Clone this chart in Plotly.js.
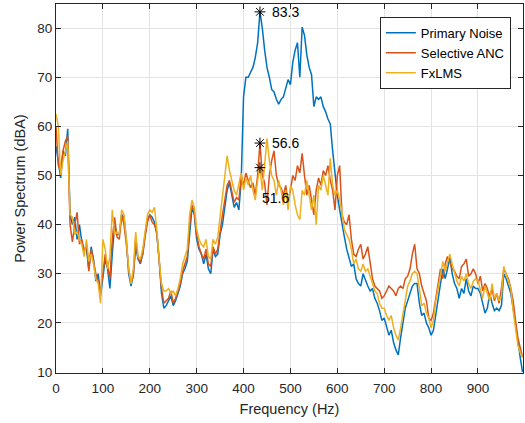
<!DOCTYPE html>
<html><head><meta charset="utf-8">
<script src="https://cdn.plot.ly/plotly-3.0.1.min.js"></script>
<style>html,body{margin:0;padding:0;background:#fff}#chart{width:525px;height:423px}</style>
</head><body><div id="chart"></div>
<script>
const freq = [0,5,10,15,20,25,30,35,40,45,50,55,60,65,70,75,80,85,90,95,100,105,110,115,120,125,130,135,140,145,150,155,160,165,170,175,180,185,190,195,200,205,210,215,220,225,230,235,240,245,250,255,260,265,270,275,280,285,290,295,300,305,310,315,320,325,330,335,340,345,350,355,360,365,370,375,380,385,390,395,400,405,410,415,420,425,430,435,440,445,450,455,460,465,470,475,480,485,490,495,500,505,510,515,520,525,530,535,540,545,550,555,560,565,570,575,580,585,590,595,600,605,610,615,620,625,630,635,640,645,650,655,660,665,670,675,680,685,690,695,700,705,710,715,720,725,730,735,740,745,750,755,760,765,770,775,780,785,790,795,800,805,810,815,820,825,830,835,840,845,850,855,860,865,870,875,880,885,890,895,900,905,910,915,920,925,930,935,940,945,950,955,960,965,970,975,980,985,990,995];

const primaryNoise = [56,53,49.5,55,54,59.5,42,40,41.5,37,40,36.5,35,35,31,35.5,33,28.5,30,25.5,29,33,31,27,34,40,38,38,42,41.5,37,30,27.5,30,35.5,33,32,34,38,41,42,41.5,40.5,38,33,26,23,23.5,24.5,25.5,23.5,24.5,26,27.5,30,31,32.5,39,43.5,42,37,35,34,32,34,31,30,35,33.5,34,38,40,44,47,48.5,46,43.5,44.5,43,49,66,70,70,71,72,74,77,83.3,80,75.5,72,70,67.5,67,65.5,64.5,65.5,66,68,69.5,68.5,73,75.5,77,70,80.2,78.5,74.5,72,70.5,64,66,65.5,66,64,63,61.5,60.5,55,50,46,43,40,37.5,35,33,31.5,32,29,28,27.5,30,28.5,27.5,26.5,27,25,24,22.5,20.5,21,19,17.5,18.5,16,14.5,13.5,17,20,23,24.5,26,27.5,28,28,24,21.5,22,20,19,17.5,18.5,22,25.5,28,31,29,31,33.5,30,28,27,25,27,26,29,26.5,25.5,27.5,27,27,26,24,22,23,26,24,22.5,23,22.5,23.5,30,29,27.5,26,23,20,16.5,13,10];

const selectiveANC = [60,52,51,55,57,58,40,36.5,40,42.5,36,37,34.5,36,30.5,35,32.5,30,28.5,26.5,30,34,31.5,29,37,41.5,37.5,37,42,40,36,31,28,29.5,37.5,33,32.5,34,37.5,40.5,42,40.5,40,38.5,32.5,27,24,24.5,25,26.5,24,25,26.5,28,30.5,32,33.5,40,44,42.5,38,35.5,34,33,35,32,31.5,35.5,34,35,39,42,45,48,49,47,44.5,45.5,45,50,48,50.5,49,47.5,48.5,46,50,56.6,50,48.5,44,50,53,55,50,48,47.5,46,48,44.5,47,50,49,52,50.5,54.5,50,46,48,45,42,47,49.5,48,51,50,52,49,47,43,50,52,42,40.5,40,42,37,34,33.5,35,36,33,34,35.5,32,29,27.5,27,26.5,25,25.5,26.5,27.5,27,26.5,25.5,27,27.5,27,29,29.5,31,34,36,31,30,27.5,26,24.5,21,20.5,22,25,28.5,31,29,32,33.5,32,31,30.5,29.5,29,31.5,32,33,29.5,30,31,30,28,29.5,26.5,28,27,25,27,24.5,26,24,27,31,30,29,27,24.5,20.5,17,15,13];

const fxLMS = [62.5,60,50,53,55,57,42,41.5,38,38.5,37,36,33.5,37,32.5,34,32,29,28,24,37,35,31,33.5,43,38,38.5,38,43,42,37,31,28,31,38.5,33.5,33,35,38.5,42,43,42.5,43.5,39,33,28,26.5,26.5,27,26,26.5,25.5,27,29,32,33.5,35,42,45,43.5,39,37,36,35.5,37,33.5,33,37,36,37.5,41.5,45,49,54,51,49,47,46,48,50.5,47,49.5,48,50,47,45,49,51.6,47,52,57.5,53,50,49,46,49,47,44,47,43,48,47,44,42,41,47,46,49,45.5,43,46,40,48,47,50,48,46,53.5,48,46,47,45,42.5,39,38,37,35,32,33,31,30.5,32,30.5,31,29.5,28,26.5,26,24,23,23,21.5,20.5,21.5,19,17.5,16.5,19,22,25,27.5,28.5,30,30.5,30,27,23.5,24,22,21,19,20.5,24.5,27,30,32.5,30.5,32,34,32,30,28.5,27.5,29.5,28.5,30,28,27,28.5,29,28.5,27,25,27.5,26,24.5,28,25,26,24.5,25.5,31.5,30,28.5,27,22.5,19,15.5,14,13];

const seriesNames = ['Primary Noise','Selective ANC','FxLMS'];
const seriesColors = ['#0072BD','#D95319','#EDB120'];
const peakFreq = [435,435,435];
const peakValues = [83.3,56.6,51.6];
const peakLabels = ['83.3','56.6','51.6'];
const xTicks = [0,100,200,300,400,500,600,700,800,900];
const yTicks = [10,20,30,40,50,60,70,80];

const allSeries = [primaryNoise, selectiveANC, fxLMS];
const traces = allSeries.map((ys,i)=>({
  x: freq, y: ys, type:'scatter', mode:'lines', name: seriesNames[i],
  line:{color: seriesColors[i], width:1.5}
}));
traces.push({
  x: peakFreq, y: peakValues, type:'scatter', mode:'markers', showlegend:false,
  marker:{symbol:'asterisk-open', size:9, color:'#000', line:{color:'#000', width:1}}
});

const labelShift = [{xs:10,ys:0},{xs:10,ys:0},{xs:0,ys:-30}];
const annotations = peakLabels.map((t,i)=>({
  x: peakFreq[i], y: peakValues[i], text: t, showarrow:false,
  xanchor:'left', yanchor:'middle', xshift: labelShift[i].xs, yshift: labelShift[i].ys,
  font:{family:'Liberation Sans, Arial, sans-serif', size:14, color:'#000'}
}));

const axisCommon = {
  showline:true, linecolor:'#262626', linewidth:1, mirror:'ticks',
  ticks:'inside', ticklen:5, tickcolor:'#262626', tickwidth:1,
  showgrid:true, gridcolor:'#e3e3e3', gridwidth:1, zeroline:false,
  tickfont:{family:'Liberation Sans, Arial, sans-serif', size:13.5, color:'#262626'}
};

const layout = {
  width:525, height:423,
  margin:{l:56, r:2, t:4, b:50},
  paper_bgcolor:'#fff', plot_bgcolor:'#fff',
  showlegend:true,
  legend:{x:0.974, y:0.965, xanchor:'right', yanchor:'top', bgcolor:'#fff',
    bordercolor:'#262626', borderwidth:1,
    font:{family:'Liberation Sans, Arial, sans-serif', size:13, color:'#000'},
    tracegroupgap:0, itemwidth:30},
  xaxis: Object.assign({}, axisCommon, {
    range:[0,996], tickvals:xTicks, ticktext:xTicks.map(String), ticklabelstandoff:3,
    title:{text:'Frequency (Hz)', standoff:8, font:{family:'Liberation Sans, Arial, sans-serif', size:14.5, color:'#262626'}}
  }),
  yaxis: Object.assign({}, axisCommon, {
    range:[9.8,84.9], tickvals:yTicks, ticktext:yTicks.map(String),
    title:{text:'Power Spectrum (dBA)', standoff:8, font:{family:'Liberation Sans, Arial, sans-serif', size:14.5, color:'#262626'}}
  }),
  annotations: annotations
};

Plotly.newPlot('chart', traces, layout, {displayModeBar:false, staticPlot:true});
</script>
</body></html>
